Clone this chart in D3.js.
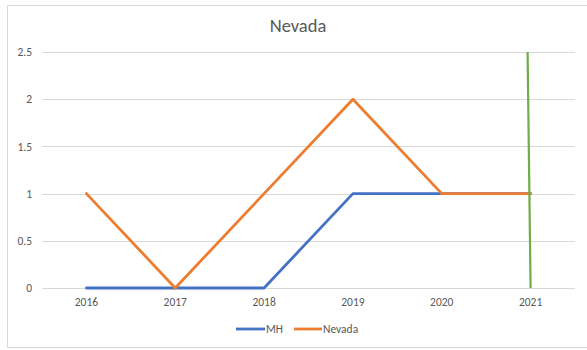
<!DOCTYPE html>
<html>
<head>
<meta charset="utf-8">
<script src="https://cdn.jsdelivr.net/npm/d3@7"></script>
<style>
  html, body { margin: 0; padding: 0; background: #fff; }
  svg { display: block; font-family: Calibri, Carlito, "Liberation Sans", Arial, sans-serif; }
</style>
</head>
<body>
<svg id="chart" width="587" height="350"></svg>
<script>
// Chart data
const years = ["2016", "2017", "2018", "2019", "2020", "2021"];
const mhValues = [0, 0, 0, 1, 1, 1];
const nevadaValues = [1, 0, 1, 2, 1, 1];
// Vertical marker line drawn at 2021, spanning the value axis
const markerYear = "2021";
const markerRange = [2.5, 0];
const yTicks = [0, 0.5, 1, 1.5, 2, 2.5];

const series = [
  { name: "MH", values: mhValues, color: "#4472C4" },
  { name: "Nevada", values: nevadaValues, color: "#ED7D31" }
];

const svg = d3.select("#chart");
const W = 587, H = 350;
const margin = { left: 42, right: 12, top: 52, bottom: 62 };

// Chart frame
svg.append("rect")
  .attr("x", 7.5).attr("y", 5.5)
  .attr("width", W).attr("height", 342)
  .attr("fill", "#fff").attr("stroke", "#d9d9d9").attr("stroke-width", 1);

const x = d3.scaleBand().domain(years).range([margin.left, W - margin.right]);
const y = d3.scaleLinear().domain([0, 2.5]).range([H - margin.bottom, margin.top]);
const cx = d => x(d) + x.bandwidth() / 2;

// Title
svg.append("text")
  .attr("x", 298).attr("y", 32)
  .attr("text-anchor", "middle")
  .attr("font-size", 18.5)
  .attr("fill", "#595959")
  .text("Nevada");

// Gridlines
svg.append("g")
  .selectAll("line")
  .data(yTicks)
  .join("line")
  .attr("x1", margin.left).attr("x2", W - margin.right)
  .attr("y1", d => Math.round(y(d)) + 0.5).attr("y2", d => Math.round(y(d)) + 0.5)
  .attr("stroke", "#d9d9d9").attr("stroke-width", 1);

// Y axis labels
const yAxis = d3.axisLeft(y).tickValues(yTicks).tickSize(0).tickPadding(0)
  .tickFormat(d => d3.format("")(d));
const gy = svg.append("g").attr("transform", `translate(${margin.left - 10},0)`).call(yAxis);
gy.select(".domain").remove();
gy.selectAll("text").attr("font-size", 11.5).attr("fill", "#595959")
  .attr("font-family", "Calibri, Carlito, 'Liberation Sans', Arial, sans-serif");

// X axis labels
const xAxis = d3.axisBottom(x).tickSize(0).tickPadding(0);
const gx = svg.append("g").attr("transform", `translate(0,${H - margin.bottom + 10})`).call(xAxis);
gx.select(".domain").remove();
gx.selectAll("text").attr("font-size", 11.5).attr("fill", "#595959")
  .attr("font-family", "Calibri, Carlito, 'Liberation Sans', Arial, sans-serif");

// Lines
const line = d3.line().x((d, i) => cx(years[i])).y(d => y(d));
series.forEach(s => {
  svg.append("path")
    .datum(s.values)
    .attr("d", line)
    .attr("fill", "none")
    .attr("stroke", s.color)
    .attr("stroke-width", 2.8)
    .attr("stroke-linejoin", "round")
    .attr("stroke-linecap", "round");
});

// Marker line at 2021
svg.append("line")
  .attr("x1", cx(markerYear) - 3).attr("x2", cx(markerYear))
  .attr("y1", y(markerRange[0])).attr("y2", y(markerRange[1]))
  .attr("stroke", "#70AD47").attr("stroke-width", 2.2);

// Legend
const legend = svg.append("g").attr("transform", "translate(0,329)");
const legendItems = [
  { s: series[0], x: 236, w: 29 },
  { s: series[1], x: 294, w: 28 }
];
legendItems.forEach(it => {
  legend.append("line")
    .attr("x1", it.x).attr("x2", it.x + it.w)
    .attr("y1", 0).attr("y2", 0)
    .attr("stroke", it.s.color).attr("stroke-width", 2.8);
  legend.append("text")
    .attr("x", it.x + it.w + 1).attr("y", 4)
    .attr("font-size", 11.5).attr("fill", "#595959")
    .text(it.s.name);
});
</script>
</body>
</html>
